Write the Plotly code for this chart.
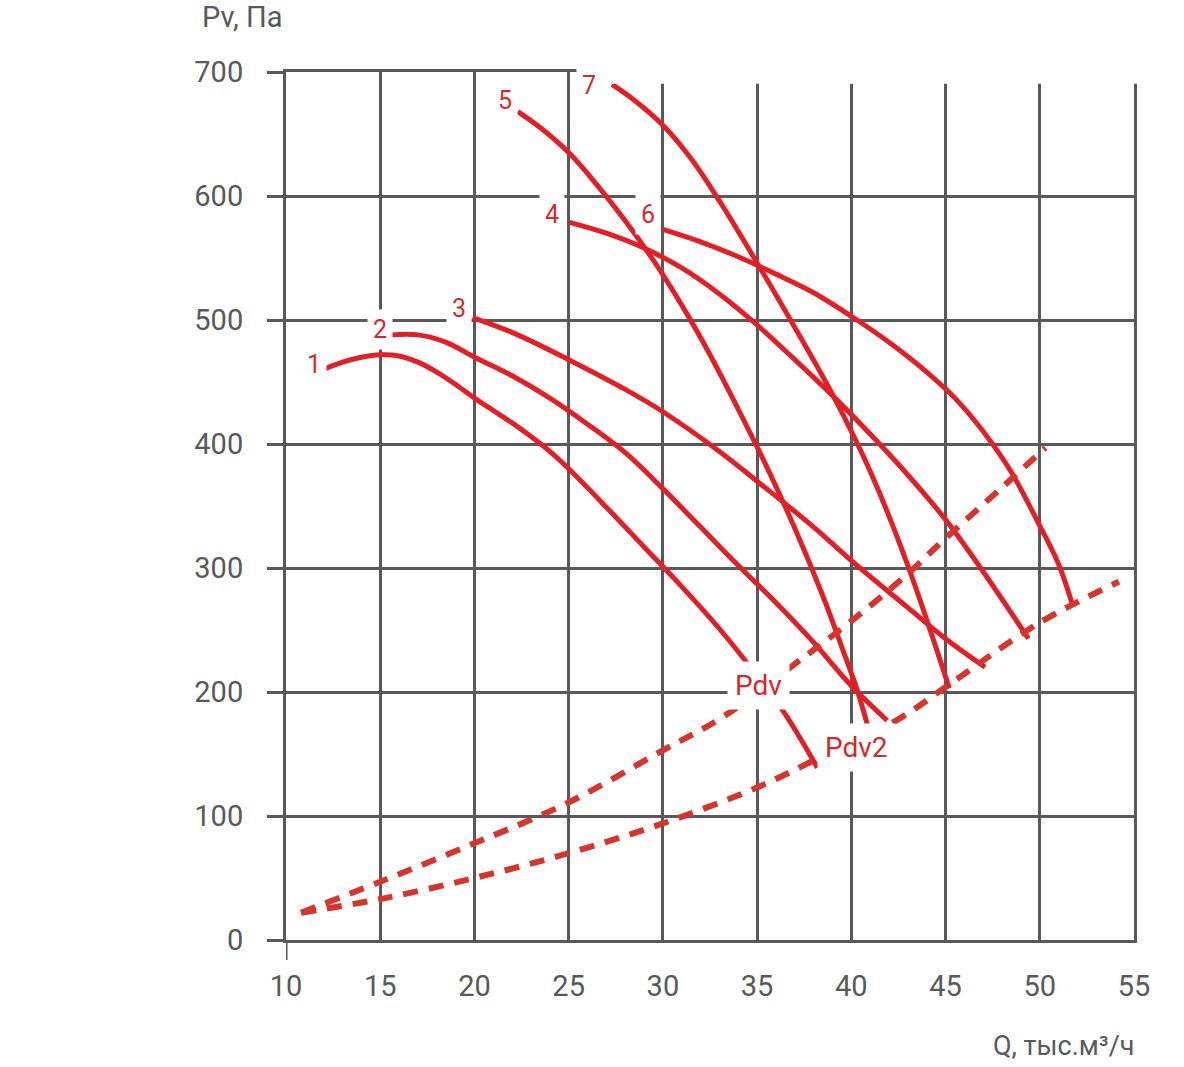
import plotly.graph_objects as go

# ---- data ----
c1_x = [11.8, 13, 14, 15, 16, 17, 18, 19, 20, 21, 22, 23, 24, 25, 27, 29, 31, 33, 35, 36.5, 38.2]
c1_y = [459, 466, 470, 472, 471, 466, 458, 448, 437, 427, 417, 406, 394, 380, 349, 317, 285, 251, 213, 182, 139]

c2_x = [15.6, 17, 18.5, 20, 22, 24, 26, 28, 30, 32, 34, 36, 38, 40, 41.9]
c2_y = [488, 488, 482, 470, 455, 437, 416, 393, 364, 333, 302, 272, 240, 205, 177]

c3_x = [19.9, 22, 25, 28, 30, 33, 35, 38, 40, 43, 45, 47.1]
c3_y = [502, 490, 468, 444, 426, 394, 370, 333, 306, 268, 243, 220]

c4_x = [25, 27, 29, 31, 33, 35, 37, 39, 41, 43, 45, 47, 49.4]
c4_y = [579, 570, 558, 542, 521, 496, 468, 439, 408, 375, 339, 297, 243]

c5_x = [22.3, 23.5, 25, 26.5, 28, 29.5, 31, 32.5, 34, 35.5, 37, 38.5, 39.5, 40.3, 40.9]
c5_y = [668, 655, 635, 609, 580, 548, 512, 472, 428, 382, 332, 277, 236, 202, 171]

c6_x = [30, 32, 34, 36, 38, 40, 42, 44, 45.5, 47, 48.5, 50, 51, 51.7]
c6_y = [573, 563, 551, 537, 522, 503, 482, 458, 437, 410, 377, 334, 303, 272]

c7_x = [27.3, 28.5, 30, 31.5, 33, 35, 37, 39, 41, 43, 45.2]
c7_y = [690, 677, 657, 630, 596, 546, 494, 440, 378, 302, 203]

pdv_x = [10.8, 15, 20, 25, 30, 33.2, 37.3, 39.9, 42.75, 45, 48, 50.3]
pdv_y = [22, 47, 78, 111, 153, 180, 226, 256, 292, 324, 365, 397]

pdv2_x = [10.8, 15, 20, 25, 30, 35, 38.3, 42.6, 45, 50, 54.2]
pdv2_y = [22, 33, 50, 70, 94, 123, 147, 179, 204, 256, 289]

solid_curves = [(c1_x, c1_y), (c2_x, c2_y), (c3_x, c3_y), (c4_x, c4_y),
                (c5_x, c5_y), (c6_x, c6_y), (c7_x, c7_y)]
dashed_curves = [(pdv_x, pdv_y), (pdv2_x, pdv2_y)]

label_text = ["1", "2", "3", "4", "5", "6", "Pdv", "Pdv2"]
label_x = [11.5, 15, 19.2, 24.1, 21.6, 29.2, 35.05, 40.25]
label_y = [464, 492, 509, 585, 677, 585, 205, 155]

x_ticks = [10, 15, 20, 25, 30, 35, 40, 45, 50, 55]
y_ticks = [0, 100, 200, 300, 400, 500, 600, 700]

# ---- styling ----
FONT = "Roboto, Liberation Sans Narrow, DejaVu Sans Condensed, sans-serif"
GRID = "#58595b"
RED = "#e31e24"
DRED = "#d6352b"
LRED = "#d42a2a"

fig = go.Figure()
for xs, ys in solid_curves:
    fig.add_trace(go.Scatter(x=xs, y=ys, mode="lines",
                             line=dict(color=RED, width=5, shape="spline", smoothing=1),
                             showlegend=False, hoverinfo="skip"))
for xs, ys in dashed_curves:
    fig.add_trace(go.Scatter(x=xs, y=ys, mode="lines",
                             line=dict(color=DRED, width=6, dash="15px,11px",
                                       shape="spline", smoothing=1),
                             showlegend=False, hoverinfo="skip"))

for t, lx, ly in zip(label_text, label_x, label_y):
    big = len(t) > 1
    fig.add_annotation(x=lx, y=ly, xref="x", yref="y", text=t, showarrow=False,
                       font=dict(family=FONT, size=28 if big else 25, color=LRED),
                       bgcolor="white", borderpad=7 if big else 5)

fig.update_layout(
    width=1184, height=1067,
    margin=dict(l=286, r=50, t=72, b=127),
    paper_bgcolor="white", plot_bgcolor="white",
    font=dict(family=FONT, color=GRID),
    xaxis=dict(range=[10, 55], tickvals=x_ticks, showgrid=True, gridcolor=GRID,
               gridwidth=3, zeroline=False, showline=True, linecolor=GRID,
               linewidth=3, mirror=True, ticks="", ticklabelstandoff=18,
               tickfont=dict(family=FONT, size=29, color=GRID)),
    yaxis=dict(range=[0, 700], tickvals=y_ticks, showgrid=True, gridcolor=GRID,
               gridwidth=3, zeroline=False, showline=True, linecolor=GRID,
               linewidth=3, mirror=True, ticks="outside", ticklen=16, tickwidth=3,
               tickcolor=GRID, ticklabelstandoff=18,
               tickfont=dict(family=FONT, size=29, color=GRID)),
)

# extension of the left axis below zero
fig.add_shape(type="line", xref="x", yref="paper", x0=10, x1=10, y0=0, y1=-0.023,
              line=dict(color=GRID, width=3))
# white area at the top right (cropped region of the original)
fig.add_shape(type="rect", xref="paper", yref="paper", x0=0.3443, x1=1.06,
              y0=0.9865, y1=1.09, fillcolor="white", line=dict(width=0),
              layer="above")

# label 7 sits above the plotting range, so place it in paper coordinates
fig.add_annotation(xref="paper", yref="paper", x=0.3573, y=1.008, text="7",
                   showarrow=False, font=dict(family=FONT, size=25, color=LRED),
                   bgcolor="white", borderpad=5)

fig.add_annotation(xref="paper", yref="paper", x=-0.1014, y=1.0634, xanchor="left",
                   yanchor="middle", text="Pv, Па", showarrow=False,
                   font=dict(family=FONT, size=29, color=GRID))
fig.add_annotation(xref="paper", yref="paper", x=1.0035, y=-0.1221, xanchor="right",
                   yanchor="middle", text="Q, тыс.м³/ч", showarrow=False,
                   font=dict(family=FONT, size=27, color=GRID))

fig.write_html("out.html")
